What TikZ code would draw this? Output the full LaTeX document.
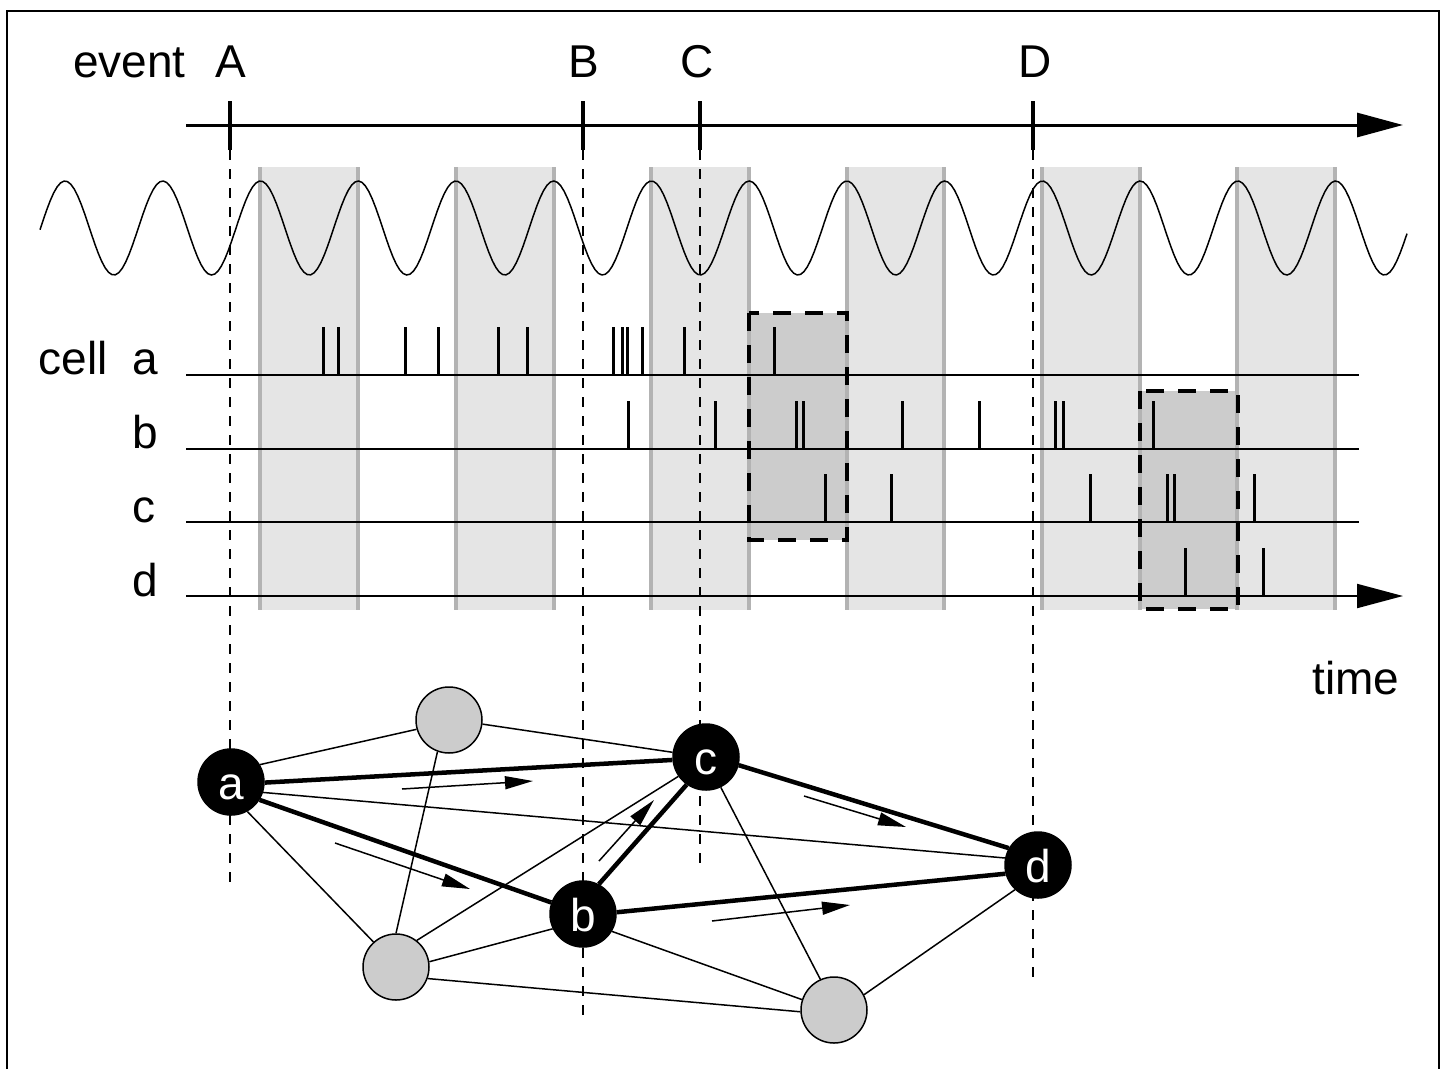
\documentclass[tikz,border=0pt]{standalone}
\usepackage{fontspec}
\setmainfont{Liberation Sans}
\usetikzlibrary{arrows.meta}

\definecolor{bandfill}{RGB}{229,229,229}
\definecolor{bandedge}{RGB}{179,179,179}
\definecolor{hifill}{RGB}{204,204,204}
\definecolor{nodegray}{RGB}{204,204,204}
\newcommand{\lblfont}{\fontsize{46pt}{55pt}\selectfont}

\begin{document}
\begin{tikzpicture}[x=1pt, y=-1pt,
  lbl/.style={inner sep=0pt, font=\lblfont},
  thinedge/.style={line width=1.5pt},
  thickedge/.style={line width=4.5pt},
  flowarrow/.style={line width=1.5pt, -{Triangle[length=28pt,width=13pt]}},
  bigarrow/.style={-{Triangle[length=46pt,width=24pt]}},
  spike/.style={line width=3pt},
  rowline/.style={line width=1.6pt},
  eventline/.style={line width=1.5pt, dash pattern=on 10pt off 9pt},
  hibox/.style={draw=black, line width=3.5pt, dash pattern=on 18pt off 14pt},
  blacknode/.style={circle, fill=black, draw=black, line width=1.5pt,
    minimum size=66pt, inner sep=0pt, text=white, font=\lblfont,
    text height=34pt, text depth=0pt},
  graynode/.style={circle, fill=nodegray, draw=black, line width=1.5pt,
    minimum size=66pt, inner sep=0pt}
]
\useasboundingbox (0,0) rectangle (1444,1069);

% outer frame (open at the bottom)
\draw[line width=1.5pt] (7,1069) -- (7,11) -- (1439,11) -- (1439,1069);

% theta-cycle bands: every other half period, peak to peak
\foreach \k in {0,...,5} {
  \pgfmathsetmacro{\xl}{260.4+195.4*\k}
  \fill[bandfill] (\xl,167) rectangle (\xl+97.7,610);
}

% highlighted windows
\fill[hifill] (749,313) rectangle (847,540);
\fill[hifill] (1140,391) rectangle (1238,609);

% band edges
\foreach \k in {0,...,5} {
  \pgfmathsetmacro{\xl}{260.4+195.4*\k}
  \draw[bandedge, line width=4pt] (\xl,167) -- (\xl,610);
  \draw[bandedge, line width=4pt] (\xl+97.7,167) -- (\xl+97.7,610);
}

% oscillation
\draw[line width=1.5pt] plot[domain=40:1407, samples=400]
  (\x,{228-47*cos(3.6834*(\x-65))});

% spike rasters
\coordinate (ra) at (186,375);
\coordinate (rb) at (186,449);
\coordinate (rc) at (186,522);
\coordinate (rd) at (186,596);
\draw[rowline] (ra) -- (1359,375);
\draw[rowline] (rb) -- (1359,449);
\draw[rowline] (rc) -- (1359,522);
\draw[line width=2pt, bigarrow] (rd) -- (1403,596);

\foreach \x in {323,338,405,438,498,527,613,622,627,642,684,774}
  \draw[spike] (\x,375) -- (\x,327);
\foreach \x in {628,715,796,803,902,979,1055,1063,1153}
  \draw[spike] (\x,449) -- (\x,401);
\foreach \x in {825,891,1090,1167,1174,1254}
  \draw[spike] (\x,522) -- (\x,474);
\foreach \x in {1185,1263}
  \draw[spike] (\x,596) -- (\x,548);

% row labels
\node[lbl, anchor=base west] (lblcell) at (38.5,374) {cell};
\node[lbl, anchor=base] (lbla) at (145,374) {a};
\node[lbl, anchor=base] (lblb) at (145,448) {b};
\node[lbl, anchor=base] (lblc) at (144,522) {c};
\node[lbl, anchor=base] (lbld) at (145,596) {d};
\node[lbl, anchor=base west] (lbltime) at (1312,694) {time};

% event axis
\node[lbl, anchor=base west] (lblevent) at (73,77) {event};
\node[lbl, anchor=base] (lblA) at (231,77) {A};
\node[lbl, anchor=base] (lblB) at (584,77) {B};
\node[lbl, anchor=base] (lblC) at (697,77) {C};
\node[lbl, anchor=base] (lblD) at (1035,77) {D};

\coordinate (tA) at (230,150);
\coordinate (tB) at (583,150);
\coordinate (tC) at (700,150);
\coordinate (tD) at (1033,150);

% event markers dropped through the plot
\draw[eventline] (tA) -- (230,884);
\draw[eventline] (tB) -- (583,1022);
\draw[eventline] (tC) -- (700,865);
\draw[eventline] (tD) -- (1033,982);

% dashed outlines of the highlighted windows
\draw[hibox] (749,313) rectangle (847,540);
\draw[hibox] (1140,391) rectangle (1238,609);

\draw[line width=3pt, bigarrow] (186,125) -- (1403,125);
\foreach \p in {tA,tB,tC,tD}
  \draw[line width=4.5pt] (\p) -- ++(0,-49);

% network of cells
\node[blacknode] (a) at (231,782) {a};
\node[blacknode] (b) at (583,914) {b};
\node[blacknode] (c) at (706,757) {c};
\node[blacknode] (d) at (1038,865) {d};
\node[graynode] (g1) at (449,720) {};
\node[graynode] (g2) at (396,967) {};
\node[graynode] (g3) at (834,1010) {};

\draw[thinedge] (a.31) -- (g1.-164);
\draw[thinedge] (g1.-7) -- (c.172);
\draw[thinedge] (a.-18) -- (d.168);
\draw[thinedge] (a.-61) -- (g2.132);
\draw[thinedge] (g1.-110) -- (g2.90);
\draw[thinedge] (g2.52) -- (c.-145);
\draw[thinedge] (g2.9) -- (b.-154);
\draw[thinedge] (g2.-20) -- (g3.-177);
\draw[thinedge] (b.-31) -- (g3.162);
\draw[thinedge] (c.-64) -- (g3.114);
\draw[thinedge] (g3.27) -- (d.-133);

\draw[thickedge] (a.-1) -- (c.-175);
\draw[thickedge] (a.-32) -- (b.160);
\draw[thickedge] (b.62) -- (c.-125);
\draw[thickedge] (c.-14) -- (d.150);
\draw[thickedge] (b.3) -- (d.-165);

% direction of activity flow
\coordinate (ac1) at (402,789);  \coordinate (ac2) at (533,781);
\coordinate (ab1) at (335,843);  \coordinate (ab2) at (470,889);
\coordinate (bc1) at (599,861);  \coordinate (bc2) at (654,800);
\coordinate (cd1) at (804,796);  \coordinate (cd2) at (906,827);
\coordinate (bd1) at (712,921);  \coordinate (bd2) at (850,905);
\draw[flowarrow] (ac1) -- (ac2);
\draw[flowarrow] (ab1) -- (ab2);
\draw[flowarrow] (bc1) -- (bc2);
\draw[flowarrow] (cd1) -- (cd2);
\draw[flowarrow] (bd1) -- (bd2);
\end{tikzpicture}
\end{document}
